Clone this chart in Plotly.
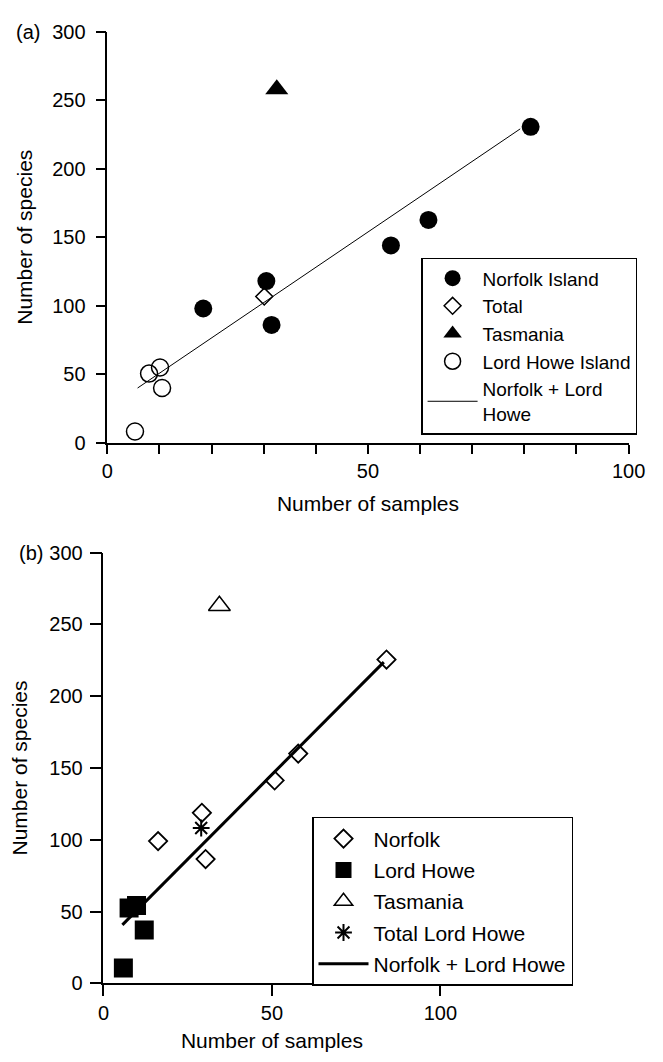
import plotly.graph_objects as go

# ---------------- data: panel (a) ----------------
a_norfolk_x = [18.4, 30.5, 31.5, 54.4, 61.6, 81.2]
a_norfolk_y = [98, 118, 86, 144, 162.6, 230.5]
a_total_x = [30.1]
a_total_y = [106.7]
a_tas_x = [32.5]
a_tas_y = [258]
a_lh_x = [5.3, 8.0, 10.1, 10.5]
a_lh_y = [8.3, 50.5, 55, 40]
a_fit_x = [5.8, 79.2]
a_fit_y = [40, 229]
a_xtickvals = [0, 10, 20, 30, 40, 50, 60, 70, 80, 90, 100]
a_xticktext = ["0", "", "", "", "", "50", "", "", "", "", "100"]

# ---------------- data: panel (b) ----------------
b_norfolk_x = [16.2, 29.2, 30.3, 50.8, 57.8, 84.0]
b_norfolk_y = [99.1, 118.8, 86.6, 141.3, 160, 225.5]
b_lh_x = [5.9, 7.6, 9.8, 12.1]
b_lh_y = [10.7, 52.6, 54.2, 37.2]
b_tas_x = [34.4]
b_tas_y = [263]
b_total_x = [29.0]
b_total_y = [108.2]
b_fit_x = [5.6, 83.2]
b_fit_y = [40.8, 223.7]
b_xtickvals = [0, 50, 100]
b_xticktext = ["0", "50", "100"]

ytickvals = [0, 50, 100, 150, 200, 250, 300]

W, H = 663, 1062
FONT = "Liberation Sans, Arial, Helvetica, sans-serif"
BLACK = "black"

fig = go.Figure()

# panel (a) traces
fig.add_trace(go.Scatter(x=a_norfolk_x, y=a_norfolk_y, mode="markers", name="Norfolk Island",
                         marker=dict(symbol="circle", size=18, color=BLACK),
                         xaxis="x", yaxis="y", legend="legend", legendgroup="a1"))
fig.add_trace(go.Scatter(x=a_total_x, y=a_total_y, mode="markers", name="Total",
                         marker=dict(symbol="diamond-open", size=13, color=BLACK, line=dict(width=1.5, color=BLACK)),
                         xaxis="x", yaxis="y", legend="legend", legendgroup="a2"))
fig.add_trace(go.Scatter(x=a_tas_x, y=a_tas_y, mode="markers", name="Tasmania",
                         marker=dict(symbol="triangle-up", size=20, color=BLACK),
                         xaxis="x", yaxis="y", legend="legend", legendgroup="a3"))
fig.add_trace(go.Scatter(x=a_lh_x, y=a_lh_y, mode="markers", name="Lord Howe Island",
                         marker=dict(symbol="circle-open", size=17, color=BLACK, line=dict(width=1.5, color=BLACK)),
                         xaxis="x", yaxis="y", legend="legend", legendgroup="a4"))
fig.add_trace(go.Scatter(x=a_fit_x, y=a_fit_y, mode="lines", name="Norfolk + Lord<br>Howe",
                         line=dict(color=BLACK, width=1),
                         xaxis="x", yaxis="y", legend="legend", legendgroup="a5"))

# panel (b) traces
fig.add_trace(go.Scatter(x=b_norfolk_x, y=b_norfolk_y, mode="markers", name="Norfolk",
                         marker=dict(symbol="diamond-open", size=14, color=BLACK, line=dict(width=1.8, color=BLACK)),
                         xaxis="x2", yaxis="y2", legend="legend2", legendgroup="b1"))
fig.add_trace(go.Scatter(x=b_lh_x, y=b_lh_y, mode="markers", name="Lord Howe",
                         marker=dict(symbol="square", size=19, color=BLACK),
                         xaxis="x2", yaxis="y2", legend="legend2", legendgroup="b2"))
fig.add_trace(go.Scatter(x=b_tas_x, y=b_tas_y, mode="markers", name="Tasmania",
                         marker=dict(symbol="triangle-up-open", size=19, color=BLACK, line=dict(width=1.5, color=BLACK)),
                         xaxis="x2", yaxis="y2", legend="legend2", legendgroup="b3"))
fig.add_trace(go.Scatter(x=b_total_x, y=b_total_y, mode="markers", name="Total Lord Howe",
                         marker=dict(symbol="asterisk-open", size=14, color=BLACK, line=dict(width=2, color=BLACK)),
                         xaxis="x2", yaxis="y2", legend="legend2", legendgroup="b4"))
fig.add_trace(go.Scatter(x=b_fit_x, y=b_fit_y, mode="lines", name="Norfolk + Lord Howe",
                         line=dict(color=BLACK, width=3),
                         xaxis="x2", yaxis="y2", legend="legend2", legendgroup="b5"))

axis_common = dict(showgrid=False, zeroline=False, showline=True, linecolor=BLACK, linewidth=1.5,
                   ticks="outside", tickcolor=BLACK, tickwidth=1.5,
                   tickfont=dict(family=FONT, size=20, color=BLACK),
                   title_font=dict(family=FONT, size=21, color=BLACK))

def px_x(p):
    return p / W

def px_y(p):
    return 1 - p / H

fig.update_layout(
    width=W, height=H,
    margin=dict(l=0, r=0, t=0, b=0),
    paper_bgcolor="white", plot_bgcolor="white",
    font=dict(family=FONT, size=20, color=BLACK),
    xaxis=dict(domain=[px_x(105), px_x(645)], range=[0, 100], anchor="y",
               tickmode="array", tickvals=a_xtickvals, ticktext=a_xticktext, ticklen=9,
               title=dict(text="Number of samples", standoff=16), **axis_common),
    yaxis=dict(domain=[px_y(441), px_y(21)], range=[0, 300], anchor="x",
               tickmode="array", tickvals=ytickvals, ticklen=10, ticklabelstandoff=6,
               title=dict(text="Number of species", standoff=14), **axis_common),
    xaxis2=dict(domain=[px_x(101), px_x(450)], range=[0, 100], anchor="y2",
                tickmode="array", tickvals=b_xtickvals, ticktext=b_xticktext, ticklen=11,
                title=dict(text="Number of samples", standoff=10), **axis_common),
    yaxis2=dict(domain=[px_y(993), px_y(553)], range=[0, 300], anchor="x2",
                tickmode="array", tickvals=ytickvals, ticklen=12, ticklabelstandoff=3,
                title=dict(text="Number of species", standoff=16), **axis_common),
    legend=dict(x=px_x(430), y=px_y(252), xanchor="left", yanchor="top",
                bordercolor=BLACK, borderwidth=1.5, bgcolor="white",
                font=dict(family=FONT, size=19, color=BLACK),
                itemwidth=50, traceorder="grouped", tracegroupgap=0,
                entrywidth=232, entrywidthmode="pixels"),
    legend2=dict(x=px_x(317), y=px_y(823), xanchor="left", yanchor="top",
                 bordercolor=BLACK, borderwidth=1.5, bgcolor="white",
                 font=dict(family=FONT, size=21, color=BLACK),
                 itemwidth=50, traceorder="grouped", tracegroupgap=1),
    annotations=[
        dict(text="(a)", x=px_x(8), y=px_y(21), xref="paper", yref="paper",
             xanchor="left", yanchor="middle", showarrow=False,
             font=dict(family=FONT, size=20, color=BLACK)),
        dict(text="(b)", x=px_x(11), y=px_y(553), xref="paper", yref="paper",
             xanchor="left", yanchor="middle", showarrow=False,
             font=dict(family=FONT, size=20, color=BLACK)),
    ],
)

fig.write_html("out.html")
